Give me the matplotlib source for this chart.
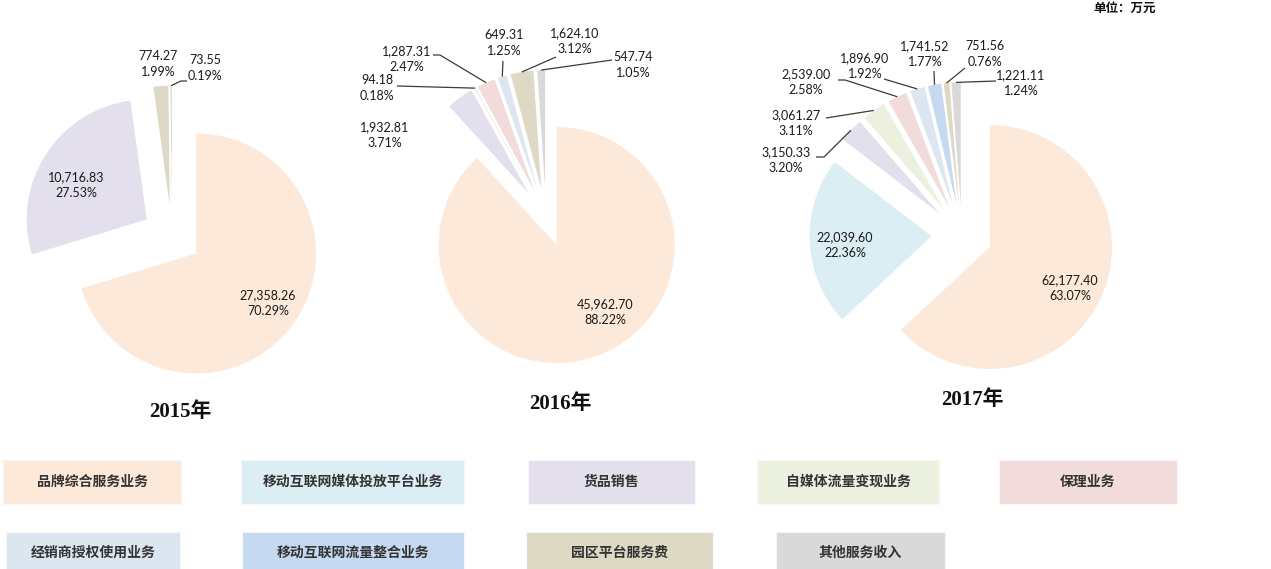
import matplotlib
matplotlib.use('Agg')
import matplotlib.pyplot as plt
import numpy as np
from matplotlib.patches import Rectangle

plt.rcParams['font.family'] = ['Lato', 'Noto Sans CJK SC', 'DejaVu Sans']

# ---------------- data ----------------
categories = ['品牌综合服务业务', '移动互联网媒体投放平台业务', '货品销售', '自媒体流量变现业务',
              '保理业务', '经销商授权使用业务', '移动互联网流量整合业务', '园区平台服务费', '其他服务收入']
cat_colors = ['#FDE9D9', '#DAEEF3', '#E4DFEC', '#EBF1DE', '#F2DCDB',
              '#DCE6F1', '#C5D9F1', '#DDD9C4', '#D9D9D9']

years = ['2015年', '2016年', '2017年']

cats_2015 = [0, 2, 7, 8]
values_2015 = [27358.26, 10716.83, 774.27, 73.55]

cats_2016 = [0, 2, 3, 4, 5, 7, 8]
values_2016 = [45962.70, 1932.81, 94.18, 1287.31, 649.31, 1624.10, 547.74]

cats_2017 = [0, 1, 2, 3, 4, 5, 6, 7, 8]
values_2017 = [62177.40, 22039.60, 3150.33, 3061.27, 2539.00, 1896.90, 1741.52, 751.56, 1221.11]

unit_text = '单位：万元'

# ---------------- layout (pixel coords, y measured from top) ----------------
W, H = 1271, 569
EXPLODE = 0.25

pie_layout = [
    dict(center=(172, 235.6), radius=120,
         label_pos=[(268, 303), (76, 185), (158, 64), (205, 68)],
         leaders={3: [(187, 81), (181, 81)]},
         year_pos=(180, 412)),
    dict(center=(546, 217.5), radius=118,
         label_pos=[(605, 312), (385, 135), (377, 88), (407, 59), (504, 43), (575, 41), (633, 65)],
         leaders={2: [(397, 86)], 3: [(433, 55), (440, 55)], 4: [(503, 61)],
                  5: [(556, 57)], 6: [(612, 60)]},
         year_pos=(560, 404)),
    dict(center=(962, 234.8), radius=122,
         label_pos=[(1070, 288), (845, 245), (786, 160), (796, 123), (806, 82),
                    (865, 66), (925, 54), (985, 54), (1021, 83)],
         leaders={2: [(816, 157), (824, 157)], 3: [(826, 118)], 4: [(838, 80), (845, 80)],
                  5: [(884, 79)], 6: [(934, 71)], 7: [(965, 68)], 8: [(996, 81)]},
         year_pos=(972, 400)),
]

legend_rows = [
    (460, 504, [(0, 3, 181), (1, 241, 464), (2, 528, 695), (3, 757, 939), (4, 999, 1177)]),
    (532, 575, [(5, 6, 180), (6, 242, 464), (7, 526, 713), (8, 776, 945)]),
]

TEXT_C = '#1a1a1a'
LEADER_C = '#3a3a3a'


def Y(y):
    return H - y


fig = plt.figure(figsize=(W / 100, H / 100), dpi=100)
ax = fig.add_axes([0, 0, 1, 1])

all_cats = [cats_2015, cats_2016, cats_2017]
all_vals = [values_2015, values_2016, values_2017]

for cats, vals, lay, yr in zip(all_cats, all_vals, pie_layout, years):
    vals = np.array(vals, dtype=float)
    total = vals.sum()
    r = lay['radius']
    cx, cy = lay['center']
    wedges, _ = ax.pie(vals, colors=[cat_colors[i] for i in cats], startangle=90,
                       counterclock=False, radius=r, center=(cx, Y(cy)),
                       explode=[EXPLODE * r] * len(vals),
                       wedgeprops=dict(linewidth=0), frame=True)
    for k, (v, w) in enumerate(zip(vals, wedges)):
        lx, ly = lay['label_pos'][k]
        ax.text(lx, Y(ly - 8), f'{v:,.2f}', ha='center', va='center',
                fontsize=9, color=TEXT_C)
        ax.text(lx, Y(ly + 8), f'{v / total * 100:.2f}%', ha='center', va='center',
                fontsize=9, color=TEXT_C)
        if k in lay['leaders']:
            mid = np.deg2rad((w.theta1 + w.theta2) / 2)
            px = w.center[0] + w.r * np.cos(mid)
            py = w.center[1] + w.r * np.sin(mid)
            pts = lay['leaders'][k]
            xs = [p[0] for p in pts] + [px]
            ys = [Y(p[1]) for p in pts] + [py]
            ax.plot(xs, ys, color=LEADER_C, lw=0.9, solid_capstyle='butt')
    yx, yy = lay['year_pos']
    ax.text(yx, Y(yy), yr, ha='center', va='center', fontsize=15, fontweight='bold',
            family=['Liberation Serif', 'Noto Sans CJK SC'], color='#111111')

# legend boxes
for y0, y1, items in legend_rows:
    for ci, x0, x1 in items:
        ax.add_patch(Rectangle((x0, Y(y1)), x1 - x0, y1 - y0, facecolor=cat_colors[ci],
                               edgecolor='#f7f7f7', linewidth=0.8))
        ax.text((x0 + x1) / 2, Y(min((y0 + y1) / 2, 553)), categories[ci], ha='center',
                va='center', fontsize=10, fontweight='bold',
                family=['Noto Sans CJK SC', 'DejaVu Sans'], color='#333333')

ax.text(1125, Y(8), unit_text, ha='center', va='center', fontsize=9, fontweight='bold',
        family=['Noto Sans CJK SC', 'DejaVu Sans'], color='#111111')

ax.set_xlim(0, W)
ax.set_ylim(0, H)
ax.set_aspect('auto')
ax.axis('off')

fig.savefig('out.png', dpi=100, facecolor='white')
